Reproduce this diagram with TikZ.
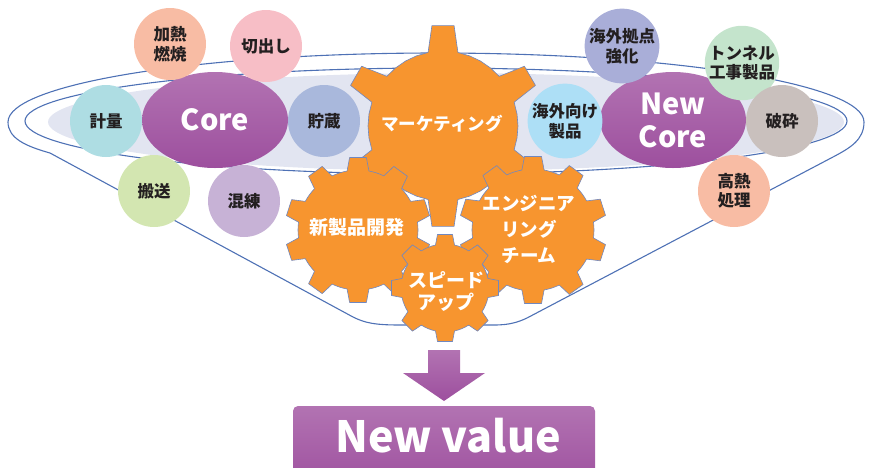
\documentclass[tikz,border=0pt]{standalone}
\usepackage{fontspec}
\setmainfont{Noto Sans CJK JP}
\usetikzlibrary{shapes.geometric}
\definecolor{fline}{HTML}{4E71B5}
\definecolor{lavfill}{HTML}{E2E5F1}
\definecolor{gearor}{HTML}{F7952F}
\definecolor{gearln}{HTML}{7088C0}
\definecolor{purtop}{HTML}{B273B2}
\definecolor{purbot}{HTML}{9D4F9E}
\definecolor{txt}{HTML}{231F20}
\definecolor{cSalmon}{HTML}{F8BCA4}
\definecolor{cPink}{HTML}{F7BEC6}
\definecolor{cTeal}{HTML}{AEDDE3}
\definecolor{cStore}{HTML}{A9B8DC}
\definecolor{cGreen}{HTML}{D3E6B1}
\definecolor{cLav}{HTML}{C7B2D6}
\definecolor{cOver}{HTML}{A9AED8}
\definecolor{cTunnel}{HTML}{C4E4CC}
\definecolor{cSky}{HTML}{ADDFF6}
\definecolor{cGray}{HTML}{C9C0BD}
\newcommand\drawgear[8]{%
  \pgfmathsetmacro\gs{360/#3}%
  \pgfmathsetmacro\ga{(\gs-2*#6)/4}%
  \draw[gearst] ({#1+#4*cos(90-#6)},{#2-#4*sin(90-#6)})
  \foreach \k in {1,...,#3}{
    -- ({#1+#5*cos(90+(\k-1)*\gs-#7)},{#2-#5*sin(90+(\k-1)*\gs-#7)})
    -- ({#1+#5*cos(90+(\k-1)*\gs+#7)},{#2-#5*sin(90+(\k-1)*\gs+#7)})
    -- ({#1+#4*cos(90+(\k-1)*\gs+#6)},{#2-#4*sin(90+(\k-1)*\gs+#6)})
    -- ({#1+#4*cos(90+(\k-1)*\gs+#6+\ga)},{#2-#4*sin(90+(\k-1)*\gs+#6+\ga)})
    -- ({#1+#4*cos(90+(\k-1)*\gs+#6+2*\ga)},{#2-#4*sin(90+(\k-1)*\gs+#6+2*\ga)})
    -- ({#1+#4*cos(90+(\k-1)*\gs+#6+3*\ga)},{#2-#4*sin(90+(\k-1)*\gs+#6+3*\ga)})
    -- ({#1+#4*cos(90+\k*\gs-#6)},{#2-#4*sin(90+\k*\gs-#6)})
  } -- cycle;
  \coordinate (#8) at (#1,#2);
}
\begin{document}
\begin{tikzpicture}[x=1pt,y=-1pt,
  funnel/.style={draw=fline,line width=1.1pt},
  gearst/.style={fill=gearor,draw=gearln,line width=0.6pt,line join=round},
  circ/.style={circle,minimum size=72pt,inner sep=0pt,align=center,text=txt,
    font=\fontsize{16.5}{19.5}\selectfont\bfseries},
  coreell/.style={ellipse,minimum width=146pt,minimum height=96pt,inner sep=0pt,
    top color=purtop,bottom color=purbot,text=white,align=center,
    font=\fontsize{29}{33}\selectfont\bfseries},
  geartext/.style={text=white,align=center,inner sep=0pt},
]
\useasboundingbox (0,0) rectangle (871,467);
% funnel
\fill[lavfill] (446,122) ellipse [x radius=398, y radius=49];
\draw[funnel] (436,121) ellipse [x radius=411, y radius=53];
\draw[funnel] (8,122) arc[start angle=180, end angle=360, x radius=428, y radius=69]
  .. controls (864,140) and (850,148) .. (833,157)
  -- (527,318) .. controls (510,326) and (500,325) .. (480,325)
  -- (400,325) .. controls (375,325) and (365,323) .. (353,317)
  -- (50,153) .. controls (25,146) and (8,138) .. (8,122) -- cycle;
% core ellipses
\node[coreell] (core) at (215,120) {Core};
\node[coreell] (newcore) at (673,120) {New\\Core};
% small circles left
\node[circ,fill=cSalmon] (kanetsu) at (170,44) {加熱\\燃焼};
\node[circ,fill=cPink] (kiridashi) at (266,46) {切出し};
\node[circ,fill=cTeal] (keiryo) at (106,121) {計量};
\node[circ,fill=cStore] (chozo) at (324,121) {貯蔵};
\node[circ,fill=cGreen] (hanso) at (154,191) {搬送};
\node[circ,fill=cLav] (konren) at (244,201) {混練};
% small circles right
\node[circ,fill=cOver] (kaigai) at (622,46) {海外拠点\\強化};
\node[circ,fill=cTunnel] (tunnel) at (742,63) {トンネル\\工事製品};
\node[circ,fill=cSky] (kaigaimuke) at (565,121) {海外向け\\製品};
\node[circ,fill=cGray] (hasai) at (782,121) {破砕};
\node[circ,fill=cSalmon] (konetsu) at (734,191) {高熱\\処理};
% gears
\drawgear{443}{126}{6}{75}{101}{11.5}{6.3}{gmkt}
\drawgear{358}{230}{10}{60}{73}{10.5}{6.6}{gnew}
\drawgear{533}{230}{10}{61}{74}{10.5}{6.6}{geng}
\drawgear{445}{288}{8}{44}{54}{12.5}{8}{gspd}
\node[geartext,font=\fontsize{17.5}{21}\selectfont\bfseries] (tmkt) at (442,124) {マーケティング};
\node[geartext,font=\fontsize{19}{23}\selectfont\bfseries] (tnew) at (357,227) {新製品開発};
\node[geartext,font=\fontsize{18.5}{26}\selectfont\bfseries] (teng) at (529,229) {エンジニア\\リング\\チーム};
\node[geartext,font=\fontsize{19}{22}\selectfont\bfseries] (tspd) at (446,291) {スピード\\アップ};
% arrow
\shade[top color=purtop,bottom color=purbot]
  (428,350) -- (460,350) -- (460,373) -- (485,373) -- (444,401) -- (403,373) -- (428,373) -- cycle;
% result box
\shade[top color=purtop,bottom color=purbot,rounded corners=5pt] (293,406) rectangle (595,490);
\node[text=white,font=\fontsize{43}{48}\selectfont\bfseries,inner sep=0pt] (newvalue) at (448,436) {New value};
\end{tikzpicture}
\end{document}
